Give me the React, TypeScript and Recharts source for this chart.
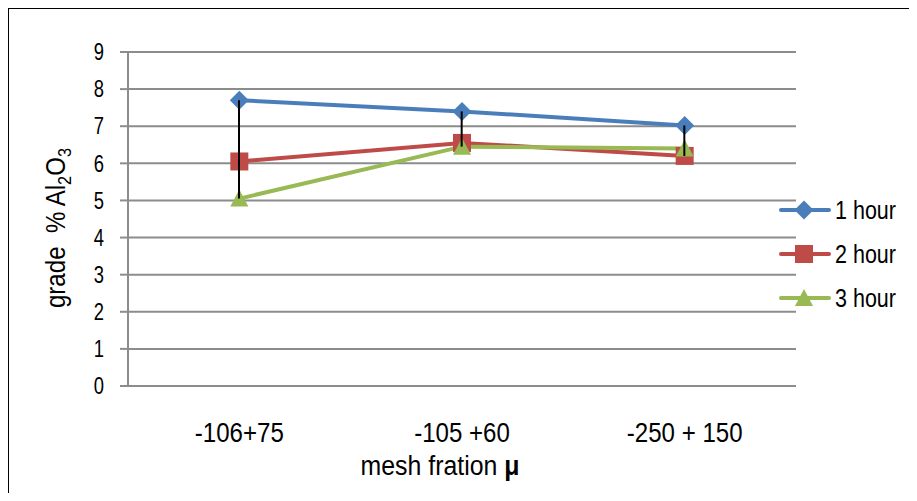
import React from 'react'
import { ComposedChart, Line, Bar, XAxis, YAxis, CartesianGrid } from 'recharts'

const categories = ['-106+75', '-105 +60', '-250 + 150']
const hour1 = [7.7, 7.4, 7.02]
const hour2 = [6.05, 6.55, 6.2]
const hour3 = [5.05, 6.45, 6.4]
const yTicks = [0, 1, 2, 3, 4, 5, 6, 7, 8, 9]

const series = [
    { key: 'h1', name: '1 hour', color: '#4A7EBB', marker: 'diamond' },
    { key: 'h2', name: '2 hour', color: '#BE4B48', marker: 'square' },
    { key: 'h3', name: '3 hour', color: '#98B954', marker: 'triangle' },
]

// high-low range per category, drawn as a thin black line
const data = categories.map((cat, i) => {
    const vals = [hour1[i], hour2[i], hour3[i]]
    return { cat, h1: hour1[i], h2: hour2[i], h3: hour3[i], range: [Math.min(...vals), Math.max(...vals)] }
})

const FONT = '"Liberation Sans", Arial, sans-serif'
const SQUEEZE = 0.86 // the original text is a condensed face

function marker(kind: string, cx: number, cy: number, color: string, key?: any) {
    if (kind === 'diamond') {
        const r = 9.5
        return <polygon key={key} points={`${cx},${cy - r} ${cx + r},${cy} ${cx},${cy + r} ${cx - r},${cy}`} fill={color} />
    }
    if (kind === 'square') {
        const h = 9
        return <rect key={key} x={cx - h} y={cy - h} width={h * 2} height={h * 2} fill={color} />
    }
    const w = 9
    return <polygon key={key} points={`${cx},${cy - 9} ${cx + w},${cy + 8} ${cx - w},${cy + 8}`} fill={color} />
}

const makeDot = (kind: string, color: string) => (props: any) => {
    const { cx, cy, index } = props
    if (cx == null || cy == null) return <g key={index} />
    return marker(kind, cx, cy, color, index)
}

const HiLo = (props: any) => {
    const { x, y, width, height } = props
    const cx = x + width / 2
    return <line x1={cx} x2={cx} y1={y} y2={y + height} stroke="#000" strokeWidth={2} />
}

const XTick = (props: any) => {
    const { x, y, payload } = props
    return (
        <g transform={`translate(${x},${y}) scale(${SQUEEZE},1)`}>
            <text x={0} y={0} dy="0.71em" textAnchor="middle" fill="#000" fontSize={28} fontFamily={FONT}>
                {payload.value}
            </text>
        </g>
    )
}

const YTick = (props: any) => {
    const { x, y, payload } = props
    return (
        <g transform={`translate(${x},${y}) scale(0.8,1)`}>
            <text x={0} y={0} dy="0.355em" textAnchor="end" fill="#000" fontSize={23} fontFamily={FONT}>
                {payload.value}
            </text>
        </g>
    )
}

export default function App() {
    return (
        <div style={{ position: 'relative', width: 917, height: 501, margin: -8, overflow: 'hidden', background: '#fff' }}>
            <div style={{ position: 'absolute', left: 5, top: 5, width: 980, height: 494, boxSizing: 'border-box', border: '4px solid #000' }} />
            <div style={{ position: 'absolute', left: 327, top: 490, width: 223, height: 12, background: '#fff' }} />
            <ComposedChart
                width={917}
                height={501}
                data={data}
                margin={{ top: 52, right: 121, bottom: 0, left: 0 }}
                style={{ position: 'absolute', left: 0, top: 0 }}
            >
                <CartesianGrid vertical={false} stroke="#8C8C8C" strokeWidth={2} />
                <XAxis
                    dataKey="cat"
                    height={115}
                    axisLine={{ stroke: '#8C8C8C', strokeWidth: 2 }}
                    tickLine={false}
                    tickSize={0}
                    tickMargin={36}
                    tick={XTick}
                />
                <YAxis
                    width={128}
                    domain={[0, 9]}
                    ticks={yTicks}
                    interval={0}
                    axisLine={{ stroke: '#8C8C8C', strokeWidth: 2 }}
                    tickLine={{ stroke: '#8C8C8C', strokeWidth: 2 }}
                    tickSize={8}
                    tickMargin={16}
                    tick={YTick}
                />
                {series.map((s) => (
                    <Line
                        key={s.key}
                        dataKey={s.key}
                        name={s.name}
                        stroke={s.color}
                        strokeWidth={4}
                        dot={makeDot(s.marker, s.color)}
                        activeDot={false}
                        isAnimationActive={false}
                    />
                ))}
                <Bar dataKey="range" barSize={2} shape={HiLo} zIndex={900} isAnimationActive={false} />
            </ComposedChart>
            <div style={{ position: 'absolute', left: 778, top: 188, fontFamily: FONT, fontSize: 25, color: '#000' }}>
                {series.map((s) => (
                    <div key={s.key} style={{ display: 'flex', alignItems: 'center', height: 44 }}>
                        <svg width={54} height={24}>
                            <line x1={3} x2={51} y1={12} y2={12} stroke={s.color} strokeWidth={4} strokeLinecap="round" />
                            {marker(s.marker, 26, 12, s.color)}
                        </svg>
                        <span style={{ marginLeft: 3, display: 'inline-block', transform: `scaleX(${SQUEEZE})`, transformOrigin: 'left center' }}>
                            {s.name}
                        </span>
                    </div>
                ))}
            </div>
            <div
                style={{
                    position: 'absolute', left: 58, top: 228,
                    transform: `translate(-50%, -50%) rotate(-90deg) scaleX(${SQUEEZE})`,
                    whiteSpace: 'nowrap', fontFamily: FONT, fontSize: 28, lineHeight: 1,
                }}
            >
                grade&nbsp; % Al<sub style={{ fontSize: 19 }}>2</sub>O<sub style={{ fontSize: 19 }}>3</sub>
            </div>
            <div
                style={{
                    position: 'absolute', left: 440, top: 466,
                    transform: 'translate(-50%, -50%) scaleX(0.92)',
                    whiteSpace: 'nowrap', fontFamily: FONT, fontSize: 27, lineHeight: 1,
                }}
            >
                mesh fration <b>μ</b>
            </div>
        </div>
    )
}
